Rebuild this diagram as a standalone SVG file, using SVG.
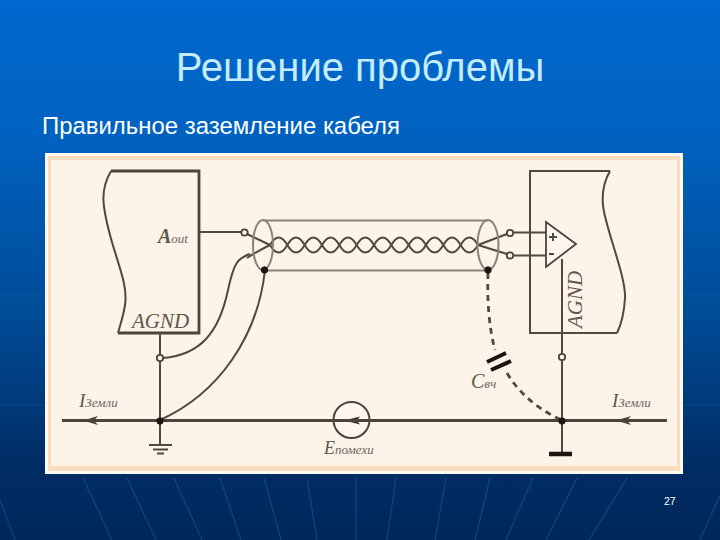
<svg xmlns="http://www.w3.org/2000/svg" width="720" height="540" viewBox="0 0 720 540">
<defs>
<linearGradient id="bg" x1="0" y1="0" x2="0" y2="1"><stop offset="0" stop-color="#0068cf"/><stop offset="0.25" stop-color="#0062c0"/><stop offset="0.6" stop-color="#004a94"/><stop offset="0.85" stop-color="#002d66"/><stop offset="1" stop-color="#00285a"/></linearGradient>
</defs>
<style>
.w{fill:none;stroke:#4f493e;stroke-width:2}
.b{fill:none;stroke:#4a4439;stroke-width:2.800}
.m{fill:none;stroke:#4a4439;stroke-width:3.200}
.s{fill:none;stroke:#8a8478;stroke-width:2}
.d{fill:none;stroke:#4f4a40;stroke-width:2.800;stroke-dasharray:6 5}
.t{fill:#fdf6ee;stroke:#4a4439;stroke-width:1.800}
.k{fill:#1a1712;stroke:#1a1712}
.l{font-family:"Liberation Serif",serif;font-style:italic;fill:#5d574c}
.u{font-size:13px;fill:#6d675c}
.r{stroke:#1c5ca8;stroke-width:1.200;fill:none;opacity:.55}
</style>
<rect width="720" height="540" fill="url(#bg)"/>
<path class="r" d="M83 478L112 540M127 478L156 540M174 478L202 540M220 478L241 540M264 478L281 540M307 478L317 540M356 478V540M396 478L387 540M446 478L435 540M490 478L475 540M533 478L506 540M577 478L546 540M627 478L589 540M0 500L15 540M720 495L700 540M0 295H45M683 295H720M0 405H45M683 405H720"/>
<text x="360" y="81" text-anchor="middle" font-family="Liberation Sans, sans-serif" font-size="40" fill="#c4ecfa">Решение проблемы</text>
<text x="42" y="134" font-family="Liberation Sans, sans-serif" font-size="23.900" textLength="358" lengthAdjust="spacingAndGlyphs" fill="#fff">Правильное заземление кабеля</text>
<text x="664" y="505" font-family="Liberation Sans, sans-serif" font-size="10.500" fill="#fff">27</text>
<g id="panel">
<rect x="45" y="153" width="638" height="321" fill="#fffaf4"/>
<rect x="48" y="156" width="632" height="315" fill="#fbdcc0"/>
<rect x="51" y="160" width="626" height="306" fill="#fdf3e9"/>
</g>
<g id="connectors">
<path class="w" d="M199 232H244M512 232.500H546M512 255.500H546"/>
<path class="w" d="M247 234L270 245M270 245C262 249 253 254 247 258"/>
<path class="w" d="M478 245L507 234M478 245L507 254"/>
<path class="w" d="M270 245q8.670 -15 17.330 0t17.330 0t17.330 0t17.330 0t17.330 0t17.330 0t17.330 0t17.330 0t17.330 0t17.330 0t17.330 0t17.330 0"/>
<path class="w" d="M270 245q8.670 15 17.330 0t17.330 0t17.330 0t17.330 0t17.330 0t17.330 0t17.330 0t17.330 0t17.330 0t17.330 0t17.330 0t17.330 0"/>
<path class="w" d="M160 333V421"/>
<path class="w" d="M163 358C200 355 219 333 228 290C234 262 238 258 250 254"/>
<path class="w" d="M160 420C220 393 258 335 265 270"/>
<path class="w" d="M562 259V453"/>
<path class="d" d="M488 273C487 300 489 328 495 350"/>
<path class="d" d="M507 373C520 395 540 410 561 420"/>
<path class="m" d="M62 420.500H667"/>
<path class="w" d="M160 421V445"/>
</g>
<g id="cable">
<path class="s" d="M263 220.500H488M263 270.500H488"/>
<ellipse class="s" cx="263" cy="245" rx="10" ry="25"/>
<ellipse class="s" cx="488" cy="245" rx="10.500" ry="25"/>
</g>
<g id="source-block">
<path class="b" d="M111 171H199V333H118"/>
<path class="w" d="M111 171C100 190 102 205 110 235C118 265 128 285 125 305C123 318 120 325 118 333"/>
<text class="l" x="158" y="243" font-size="20" font-weight="bold">A<tspan class="u" font-weight="normal">out</tspan></text>
<text class="l" x="132" y="328" font-size="21">AGND</text>
</g>
<g id="receiver-block">
<path class="w" d="M610 171H530V333H617"/>
<path class="w" d="M610 171C602 185 600 200 606 220C612 245 626 280 625 298C624 315 621 325 617 333"/>
<path class="t" d="M546 222L576 244L546 267Z"/>
<path class="w" d="M549 237H557M553 233V241M549 254H554"/>
<text class="l" transform="translate(582 328) rotate(-90)" font-size="21">AGND</text>
</g>
<g id="terminals">
<circle class="t" cx="244.500" cy="232.500" r="3.200"/>
<circle class="t" cx="510" cy="233" r="3.200"/>
<circle class="t" cx="510" cy="255.500" r="3.200"/>
<circle class="t" cx="160" cy="358" r="3.200"/>
<circle class="t" cx="562" cy="357" r="3.200"/>
<circle class="k" cx="264.500" cy="270" r="3.200"/>
<circle class="k" cx="488" cy="270" r="3.200"/>
<circle class="k" cx="160" cy="421" r="3.200"/>
<circle class="k" cx="562" cy="421" r="3.200"/>
</g>
<g id="capacitor">
<path d="M487 362L506 353M491 370L511 361" stroke="#1a1712" stroke-width="4" fill="none"/>
<text class="l" x="471" y="388" font-size="20">C<tspan class="u">вч</tspan></text>
</g>
<g id="emf-source">
<circle cx="351.500" cy="420" r="18" fill="#fdf6ee" stroke="#4a4439" stroke-width="2"/>
<path d="M344 420.500L360 416.500L357 420.500L360 424.500Z" fill="#3a352c"/>
<path class="m" d="M333 420.500H370"/>
<text class="l" x="324" y="454" font-size="18">E<tspan class="u">помехи</tspan></text>
</g>
<g id="ground-left">
<path class="w" d="M149 445H172M153 449.500H168M157 453.500H164"/>
</g>
<g id="ground-right">
<path d="M549 454H572" stroke="#1a1712" stroke-width="4.500"/>
</g>
<g id="current-left">
<path d="M83 420.500L98 416L94 420.500L98 425Z" fill="#4a4439"/>
<text class="l" x="79" y="407" font-size="19">I<tspan class="u">Земли</tspan></text>
</g>
<g id="current-right">
<path d="M616 420.500L631 416L627 420.500L631 425Z" fill="#4a4439"/>
<text class="l" x="612" y="407" font-size="19">I<tspan class="u">Земли</tspan></text>
</g>
</svg>
